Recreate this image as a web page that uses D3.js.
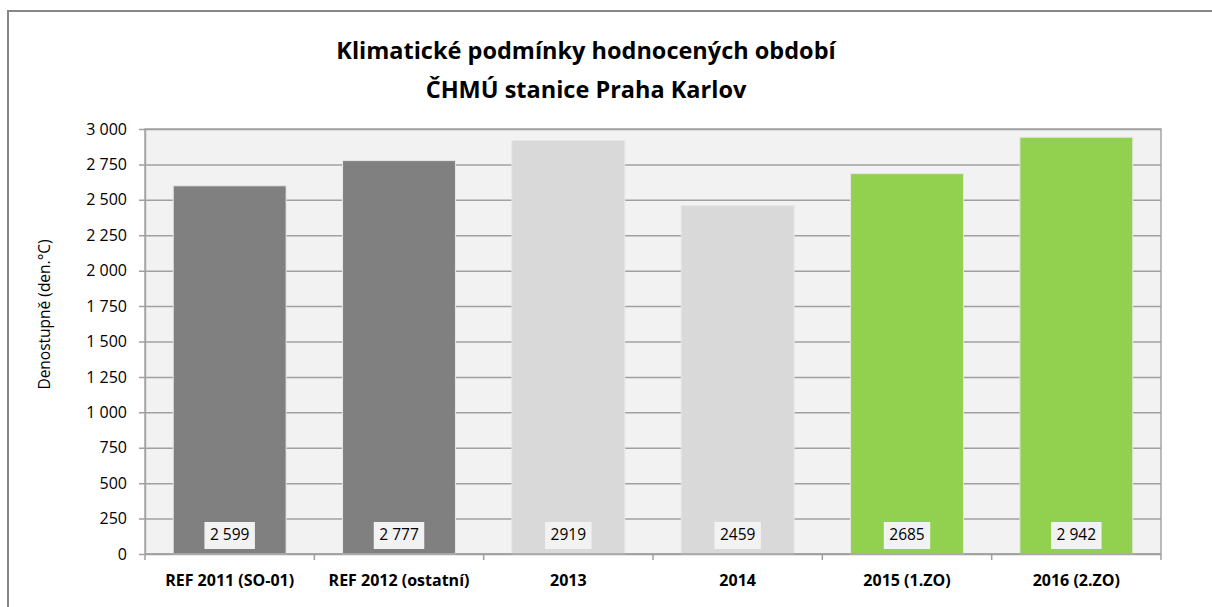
<!DOCTYPE html>
<html>
<head>
<meta charset="utf-8">
<script src="https://cdn.jsdelivr.net/npm/d3@7"></script>
<style>
  body { margin: 0; background: #fff; }
  text { font-family: "Open Sans", sans-serif; fill: #000; }
</style>
</head>
<body>
<svg id="chart" width="1212" height="607"></svg>
<script>
'use strict';
// data
var categories = ['REF 2011 (SO-01)', 'REF 2012 (ostatní)', '2013', '2014', '2015 (1.ZO)', '2016 (2.ZO)'];
var values = [2599, 2777, 2919, 2459, 2685, 2942];
var valueLabels = ['2\u00a0599', '2\u00a0777', '2919', '2459', '2685', '2\u00a0942'];
var barColors = ['#808080', '#808080', '#d9d9d9', '#d9d9d9', '#92d050', '#92d050'];
var yTicks = [0, 250, 500, 750, 1000, 1250, 1500, 1750, 2000, 2250, 2500, 2750, 3000];
var titleLines = ['Klimatické podmínky hodnocených období', 'ČHMÚ stanice Praha Karlov'];
var yTitle = 'Denostupně (den.°C)';

var svg = d3.select('#chart');
var plot = {left: 145, top: 129, right: 1161, bottom: 554};

var czFormat = d3.formatLocale({decimal: ',', thousands: '\u00a0', grouping: [3], currency: ['', ' Kč']}).format(',d');

var x = d3.scaleBand().domain(categories).range([plot.left, plot.right]).paddingInner(1/3).paddingOuter(1/6);
var y = d3.scaleLinear().domain([0, 3000]).range([plot.bottom, plot.top]);

// outer chart frame
svg.append('path')
  .attr('d', 'M8,607 L8,11 L1212,11')
  .attr('fill', 'none').attr('stroke', '#868686').attr('stroke-width', 2);

// title
svg.append('g').selectAll('text')
  .data(titleLines)
  .enter().append('text')
  .attr('x', 586)
  .attr('y', function(d, i){ return 59 + i * 39; })
  .attr('text-anchor', 'middle')
  .style('font-size', '23.5px')
  .style('font-weight', 'bold')
  .text(function(d){ return d; });

// plot background
svg.append('rect')
  .attr('x', plot.left).attr('y', plot.top)
  .attr('width', plot.right - plot.left).attr('height', plot.bottom - plot.top)
  .attr('fill', '#f2f2f2').attr('stroke', '#a6a6a6').attr('stroke-width', 1.5);

// gridlines + y axis
var yAxis = svg.append('g')
  .attr('transform', 'translate(' + plot.left + ',0)')
  .call(d3.axisLeft(y).tickValues(yTicks).tickFormat(czFormat).tickSize(-(plot.right - plot.left)).tickSizeOuter(0).tickPadding(18));
yAxis.select('.domain').attr('stroke', '#a6a6a6').attr('stroke-width', 1.5);
yAxis.selectAll('.tick line').attr('stroke', '#a0a0a0').attr('stroke-width', 1.5).attr('x1', -6);
yAxis.selectAll('.tick text').style('font-size', '16px').attr('fill', '#000');

// bars
svg.append('g').selectAll('rect')
  .data(categories)
  .enter().append('rect')
  .attr('x', function(d){ return x(d); })
  .attr('y', function(d, i){ return y(values[i]); })
  .attr('width', x.bandwidth())
  .attr('height', function(d, i){ return y(0) - y(values[i]); })
  .attr('fill', function(d, i){ return barColors[i]; })
  .attr('stroke', '#e6e6e6').attr('stroke-width', 1);

// value labels in boxes at the base of bars
var labels = svg.append('g').selectAll('g')
  .data(categories)
  .enter().append('g')
  .attr('transform', function(d){ return 'translate(' + (x(d) + x.bandwidth() / 2) + ',' + (plot.bottom - 19) + ')'; });
labels.each(function(d, i){
  var g = d3.select(this);
  var t = g.append('text')
    .attr('text-anchor', 'middle')
    .attr('dy', '0.35em')
    .style('font-size', '15.5px')
    .attr('fill', '#262626')
    .text(valueLabels[i]);
  var w = t.node().getComputedTextLength() + 11;
  g.insert('rect', 'text')
    .attr('x', -w / 2).attr('y', -13)
    .attr('width', w).attr('height', 27)
    .attr('fill', '#f2f2f2');
});

// x axis line and boundary ticks
var step = x.step();
var bounds = d3.range(categories.length + 1).map(function(i){ return plot.left + i * step; });
svg.append('line')
  .attr('x1', plot.left).attr('x2', plot.right)
  .attr('y1', plot.bottom).attr('y2', plot.bottom)
  .attr('stroke', '#a0a0a0').attr('stroke-width', 1.5);
svg.append('g').selectAll('line')
  .data(bounds)
  .enter().append('line')
  .attr('x1', function(d){ return d; }).attr('x2', function(d){ return d; })
  .attr('y1', plot.bottom).attr('y2', plot.bottom + 6)
  .attr('stroke', '#a0a0a0').attr('stroke-width', 1.5);

svg.append('g').selectAll('text')
  .data(categories)
  .enter().append('text')
  .attr('x', function(d){ return x(d) + x.bandwidth() / 2; })
  .attr('y', plot.bottom + 32)
  .attr('text-anchor', 'middle')
  .style('font-size', '16px')
  .style('font-weight', 'bold')
  .text(function(d){ return d; });

// y axis title
svg.append('text')
  .attr('transform', 'translate(50,' + ((plot.top + plot.bottom) / 2 - 27) + ') rotate(-90)')
  .attr('text-anchor', 'middle')
  .style('font-size', '15.5px')
  .text(yTitle);
</script>
</body>
</html>
